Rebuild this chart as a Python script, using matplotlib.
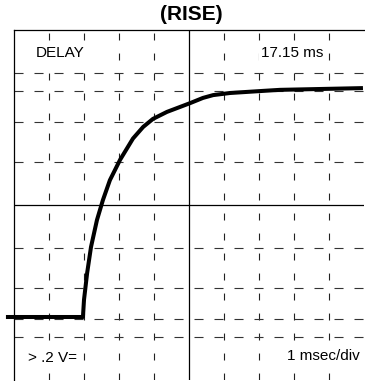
import matplotlib
matplotlib.use("Agg")
import matplotlib.pyplot as plt

plt.rcParams['font.family'] = ['Liberation Sans', 'DejaVu Sans']
plt.rcParams['lines.scale_dashes'] = False

# trace (x in msec, y in divisions)
t_ms = [-0.23, 1.97, 2.00, 2.09, 2.20, 2.37, 2.54, 2.74, 3.03, 3.40, 3.69,
        3.97, 4.37, 4.74, 5.03, 5.40, 5.69, 6.17, 7.11, 7.60, 8.54, 9.97]
v_div = [-3.20, -3.20, -2.71, -1.94, -1.20, -0.43, 0.14, 0.71, 1.29, 1.90, 2.23,
         2.46, 2.66, 2.80, 2.91, 3.06, 3.14, 3.20, 3.26, 3.29, 3.31, 3.34]

# graticule
x_lines = [1, 2, 3, 4, 6, 7, 8, 9]
y_lines = [3.78, 3.25, 2.36, 1.24, -1.24, -2.36, -3.25, -3.76]

title = "(RISE)"
top_left = "DELAY"
top_right = "17.15 ms"
bot_left = "> .2 V="
bot_right = "1 msec/div"

fig = plt.figure(figsize=(3.65, 3.81), dpi=100)
ax = fig.add_axes([14 / 365, 1 / 381, 350 / 365, 350 / 381])
ax.set_xlim(0, 10)
ax.set_ylim(-5, 5)

for x in x_lines:
    ax.axvline(x, color='#222222', lw=0.8, dashes=(5, 9.4), zorder=1)
for y in y_lines:
    ax.axhline(y, color='#333333', lw=0.8, dashes=(6.5, 7.9), zorder=1)
ax.axvline(5, color='black', lw=0.9, zorder=1)
ax.axhline(0, color='black', lw=0.9, zorder=1)

ax.plot(t_ms, v_div, color='black', lw=2.9, solid_capstyle='butt',
        solid_joinstyle='round', clip_on=False, zorder=3)

box = dict(facecolor='white', edgecolor='none', pad=1.5)
ax.text(0.63, 4.34, top_left, fontsize=11, ha='left', va='center', bbox=box, zorder=2)
ax.text(8.83, 4.34, top_right, fontsize=11, ha='right', va='center', bbox=box, zorder=2)
ax.text(0.4, -4.37, bot_left, fontsize=11, ha='left', va='center', bbox=box, zorder=2)
ax.text(9.89, -4.3, bot_right, fontsize=11, ha='right', va='center', bbox=box, zorder=2)

ax.set_xticks([])
ax.set_yticks([])
for s in ['right', 'bottom']:
    ax.spines[s].set_visible(False)
for s in ['left', 'top']:
    ax.spines[s].set_linewidth(0.9)

fig.text(0.523, 0.961, title, fontsize=15, fontweight='bold', ha='center', va='center')

fig.savefig("out.png", dpi=100)
